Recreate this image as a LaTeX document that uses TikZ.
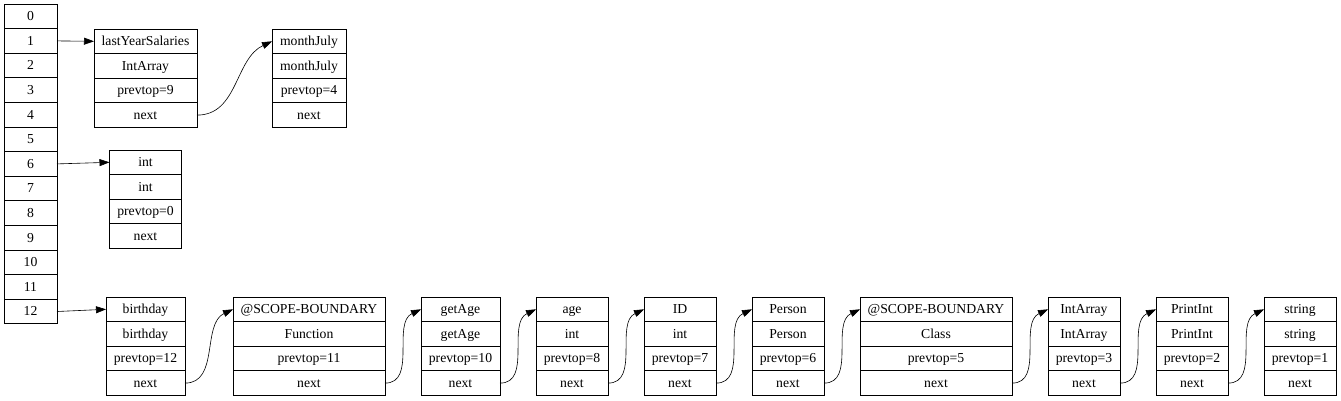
\documentclass[tikz,border=0pt]{standalone}
\usepackage{fontspec}
\setmainfont{Liberation Serif}
\usetikzlibrary{shapes.multipart,arrows.meta,positioning}

\tikzset{
  record/.style={
    rectangle split,
    rectangle split parts=4,
    draw,
    line width=.8pt,
    outer sep=0pt,
    inner ysep=3.9pt,
    inner xsep=2pt,
    minimum width=#1,
    },
  symtable/.style={
    rectangle split,
    rectangle split parts=13,
    draw,
    line width=.8pt,
    outer sep=0pt,
    inner ysep=3.9pt,
    minimum width=53pt,
    },
}
\tikzstyle{Link} = [-{Triangle[length=10pt,width=7pt]},line width=.6pt]
\newcommand{\cellstrut}{\rule[-3.6pt]{0pt}{16pt}}
\newcommand{\rec}[4]{\cellstrut #1\nodepart{two}\cellstrut #2%
  \nodepart{three}\cellstrut #3\nodepart{four}\cellstrut #4}

\begin{document}
\begin{tikzpicture}[font=\fontsize{13.7}{16}\selectfont]

    \useasboundingbox (0,0) rectangle (1341pt,-400pt);

    % Table
    \node[symtable,anchor=north west] (tab) at (4pt,-4pt)
        {\cellstrut 0\nodepart{two}\cellstrut 1\nodepart{three}\cellstrut 2%
         \nodepart{four}\cellstrut 3\nodepart{five}\cellstrut 4\nodepart{six}\cellstrut 5%
         \nodepart{seven}\cellstrut 6\nodepart{eight}\cellstrut 7\nodepart{nine}\cellstrut 8%
         \nodepart{ten}\cellstrut 9\nodepart{eleven}\cellstrut 10%
         \nodepart{twelve}\cellstrut 11\nodepart{thirteen}\cellstrut 12};

    % Buckets
    \node[record=103pt,anchor=north west] (salaries) at (94pt,-29pt)
        {\rec{lastYearSalaries}{IntArray}{prevtop=9}{next}};
    \node[record=74pt,right=75pt of salaries] (july)
        {\rec{monthJuly}{monthJuly}{prevtop=4}{next}};

    \node[record=72pt,anchor=north west] (int) at (109.5pt,-150pt)
        {\rec{int}{int}{prevtop=0}{next}};

    \node[record=79pt,anchor=north west] (birthday) at (106pt,-297pt)
        {\rec{birthday}{birthday}{prevtop=12}{next}};
    \node[record=152pt,right=48pt of birthday] (fnscope)
        {\rec{@SCOPE-BOUNDARY}{Function}{prevtop=11}{next}};
    \node[record=79pt,right=36pt of fnscope] (getage)
        {\rec{getAge}{getAge}{prevtop=10}{next}};
    \node[record=72pt,right=36pt of getage] (age)
        {\rec{age}{int}{prevtop=8}{next}};
    \node[record=72pt,right=36pt of age] (id)
        {\rec{ID}{int}{prevtop=7}{next}};
    \node[record=72pt,right=36pt of id] (person)
        {\rec{Person}{Person}{prevtop=6}{next}};
    \node[record=152pt,right=36pt of person] (clscope)
        {\rec{@SCOPE-BOUNDARY}{Class}{prevtop=5}{next}};
    \node[record=72pt,right=36pt of clscope] (intarray)
        {\rec{IntArray}{IntArray}{prevtop=3}{next}};
    \node[record=72pt,right=36pt of intarray] (printint)
        {\rec{PrintInt}{PrintInt}{prevtop=2}{next}};
    \node[record=72pt,right=36pt of printint] (string)
        {\rec{string}{string}{prevtop=1}{next}};

    % Links
    \draw[Link] (tab.two east) -- (salaries.text west);
    \draw[Link] (tab.seven east) -- (int.text west);
    \draw[Link] (tab.thirteen east) -- (birthday.text west);

    \draw[Link] (salaries.four east) to[out=0,in=205] (july.text west);
    \draw[Link] (birthday.four east) to[out=0,in=205] (fnscope.text west);
    \draw[Link] (fnscope.four east) to[out=0,in=205] (getage.text west);
    \draw[Link] (getage.four east) to[out=0,in=205] (age.text west);
    \draw[Link] (age.four east) to[out=0,in=205] (id.text west);
    \draw[Link] (id.four east) to[out=0,in=205] (person.text west);
    \draw[Link] (person.four east) to[out=0,in=205] (clscope.text west);
    \draw[Link] (clscope.four east) to[out=0,in=205] (intarray.text west);
    \draw[Link] (intarray.four east) to[out=0,in=205] (printint.text west);
    \draw[Link] (printint.four east) to[out=0,in=205] (string.text west);

\end{tikzpicture}
\end{document}
